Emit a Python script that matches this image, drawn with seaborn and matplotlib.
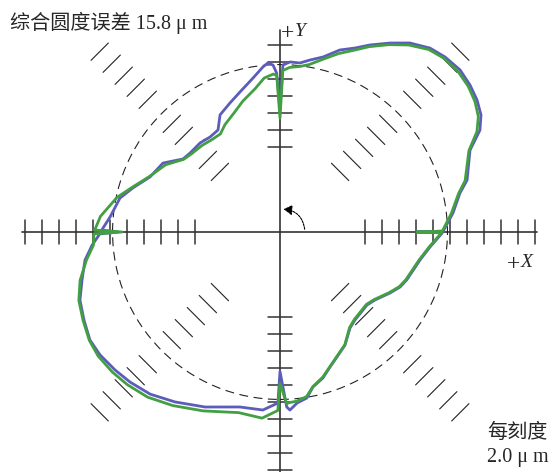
import numpy as np
import pandas as pd
import matplotlib
matplotlib.use("Agg")
import matplotlib.pyplot as plt
from matplotlib.patches import Circle, FancyArrowPatch
import seaborn as sns

# profile data: angle (deg) and radius (in divisions, 1 div = 2.0 um)
angle_deg = [0.0, 0.3, 6.3, 12.2, 15.5, 23.3, 27.0, 30.2, 33.8, 37.7, 42.0, 46.7, 50.8,
             55.5, 59.8, 64.3, 67.8, 71.8, 76.2, 80.1, 83.3, 86.6, 89.0, 90.0, 91.2,
             92.4, 94.1, 95.9, 99.9, 105.9, 111.2, 117.1, 121.3, 126.4, 131.9, 138.7,
             143.0, 149.5, 157.0, 163.3, 168.0, 175.0, 179.4, 180.0, 180.6, 184.0,
             188.2, 193.6, 198.8, 204.2, 209.6, 214.3, 219.9, 225.0, 231.3, 238.3,
             246.8, 257.1, 264.5, 269.3, 270.0, 272.2, 273.2, 275.7, 279.2, 282.0,
             286.4, 290.3, 294.5, 299.9, 306.1, 310.4, 320.0, 324.4, 331.0, 335.4,
             339.3, 348.7, 354.3, 359.7]

r_blue = [8.06, 9.6, 10.24, 10.83, 11.42, 12.17, 13.2, 13.68, 13.95, 14.13, 14.25, 14.15,
          13.96, 13.49, 12.86, 12.21, 11.69, 11.27, 10.6, 10.27, 10.01, 10.02, 9.83, 7.2,
          9.35, 9.83, 9.97, 9.76, 9.2, 8.57, 8.14, 7.74, 7.02, 6.94, 7.04, 7.04, 7.14,
          7.99, 8.3, 9.03, 9.62, 10.04, 10.49, 9.5, 10.6, 11.08, 11.59, 11.98, 12.43,
          12.64, 12.86, 12.82, 12.65, 12.48, 12.22, 11.75, 11.2, 10.56, 10.52, 10.06,
          8.2, 10.3, 10.49, 10.11, 9.89, 9.32, 8.95, 8.47, 8.08, 7.67, 6.99, 6.8, 6.68,
          6.87, 7.4, 7.77, 7.97, 8.4, 8.87, 9.55]

r_green = [8.06, 9.55, 10.15, 10.75, 11.3, 12.1, 13.0, 13.5, 13.8, 14.0, 14.1, 14.05,
           13.85, 13.35, 12.75, 12.1, 11.55, 11.05, 10.45, 10.0, 9.8, 9.7, 9.5, 6.7,
           9.2, 9.3, 9.2, 9.1, 8.55, 8.0, 7.5, 7.1, 6.75, 6.75, 6.85, 6.95, 7.1, 7.8,
           8.35, 9.1, 9.8, 10.6, 10.9, 9.3, 10.95, 11.0, 11.5, 12.1, 12.5, 12.7, 12.9,
           12.95, 12.85, 12.7, 12.45, 12.0, 11.45, 10.9, 11.0, 10.5, 8.9, 10.1, 10.05,
           10.0, 9.8, 9.3, 8.9, 8.45, 8.05, 7.65, 6.95, 6.75, 6.63, 6.82, 7.35, 7.72,
           7.92, 8.35, 8.82, 9.5]

ref_radius = 9.85            # dashed reference circle
x_ticks_r = list(range(5, 16))
y_ticks_up = list(range(5, 12))
y_ticks_down = list(range(5, 15))
diag_ticks_r = [5, 6, 7, 8, 9, 11, 12, 13, 14, 15]

title_text = "综合圆度误差 15.8 μ m"
scale_text1 = "每刻度"
scale_text2 = "2.0 μ m"

sns.set_style("white")
plt.rcParams['font.family'] = ['Liberation Serif', 'Noto Sans CJK SC', 'DejaVu Sans']


def to_xy(ang, rad):
    t = np.deg2rad(np.array(ang))
    r = np.array(rad)
    x, y = r * np.cos(t), r * np.sin(t)
    return np.append(x, x[0]), np.append(y, y[0])


xb, yb = to_xy(angle_deg, r_blue)
xg, yg = to_xy(angle_deg, r_green)
df_blue = pd.DataFrame({"x": xb, "y": yb})
df_green = pd.DataFrame({"x": xg, "y": yg})

fig = plt.figure(figsize=(5.51, 4.72), dpi=100)
ax = fig.add_axes([0, 0, 1, 1])

axis_col = "#333333"
tl = 0.72
# main cross axes
ax.plot([-15.2, 15.1], [0, 0], color=axis_col, lw=1.2, zorder=1)
ax.plot([0, 0], [-14.2, 11.9], color=axis_col, lw=1.2, zorder=1)
for r in x_ticks_r:
    for s in (-1, 1):
        ax.plot([s * r, s * r], [-tl, tl], color=axis_col, lw=1.1, zorder=1)
for r in y_ticks_up:
    ax.plot([-tl, tl], [r, r], color=axis_col, lw=1.1, zorder=1)
for r in y_ticks_down:
    ax.plot([-tl, tl], [-r, -r], color=axis_col, lw=1.1, zorder=1)

# diagonal ticks
for a in (45, 135, 225, 315):
    t = np.deg2rad(a)
    ux, uy = np.cos(t), np.sin(t)
    px, py = -uy, ux
    for r in diag_ticks_r:
        cx, cy = r * ux, r * uy
        ax.plot([cx - tl * px, cx + tl * px], [cy - tl * py, cy + tl * py],
                color="#222222", lw=0.8, zorder=1)

# reference circle
ax.add_patch(Circle((0, 0), ref_radius, fill=False, ec="#222222", lw=0.8,
                    ls=(0, (8, 5)), zorder=1))

# rotation arrow
ax.add_patch(FancyArrowPatch((1.47, 0), (0.05, 1.35), connectionstyle="arc3,rad=0.45",
                             arrowstyle="-|>,head_length=5,head_width=3", color="black",
                             lw=0.8, ls=(0, (2, 1)), zorder=2))

sns.lineplot(data=df_blue, x="x", y="y", estimator=None, sort=False,
             color="#5c5cbc", lw=2.0, ax=ax, zorder=3)
sns.lineplot(data=df_green, x="x", y="y", estimator=None, sort=False,
             color="#42a042", lw=2.0, ax=ax, zorder=4)

ax.set_xlim(-280 / 17, 271 / 17)
ax.set_ylim(-240 / 17, 232 / 17)
ax.axis("off")

ax.text(-15.88, 12.32, title_text, fontsize=14.5, ha="left", va="center")
ax.text(0.85, 11.35, "+", fontsize=17, ha="right", va="baseline")
ax.text(0.85, 11.5, "Y", fontsize=14, style="italic", ha="left", va="baseline")
ax.text(14.15, -2.23, "+", fontsize=17, ha="right", va="baseline")
ax.text(14.15, -2.08, "X", fontsize=14, style="italic", ha="left", va="baseline")
ax.text(12.18, -11.82, scale_text1, fontsize=14.5, ha="left", va="center")
ax.text(12.18, -13.29, scale_text2, fontsize=14.5, ha="left", va="center")

fig.savefig("out.png", dpi=100)
